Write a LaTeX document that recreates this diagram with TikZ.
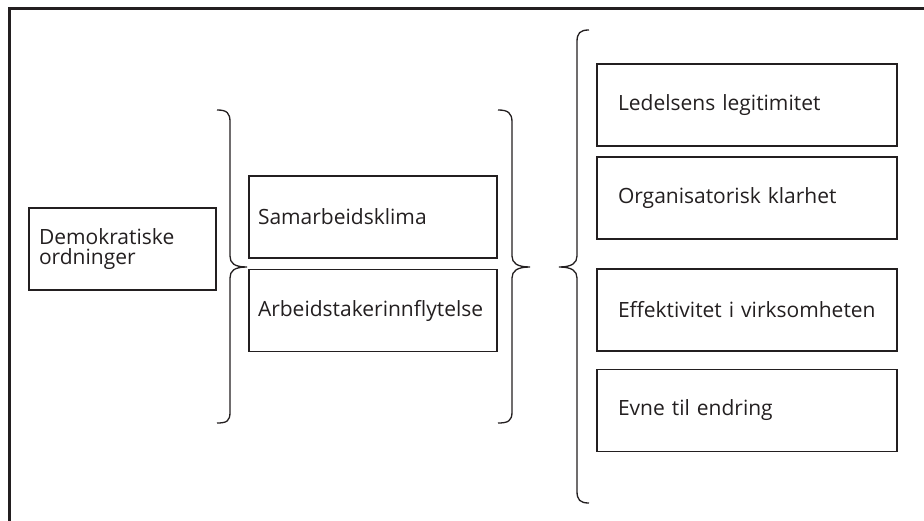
\documentclass[tikz,border=0pt]{standalone}
\usepackage{fontspec}
\setmainfont{Open Sans}
\definecolor{ink}{HTML}{231F20}
\begin{document}
\begin{tikzpicture}[x=1pt,y=-1pt,
  box/.style={draw=ink, line width=1.5pt, minimum height=82pt, align=left,
    font=\fontsize{21}{20}\selectfont, text=ink, anchor=center},
  brace/.style={draw=ink, line width=1.3pt},
  frame/.style={draw=ink, line width=3pt}]
\useasboundingbox (0,0) rectangle (924,521);
\draw[frame] (9,521) -- (9,9) -- (924,9);
\node[box, minimum width=187pt, inner xsep=10pt, text width=167pt] (dem) at (122.5,249) {Demokratiske\\ordninger};
\node[box, minimum width=248pt, inner xsep=9pt, text width=230pt] (sam) at (373,217) {Samarbeidsklima};
\node[box, minimum width=248pt, inner xsep=9pt, text width=230pt] (arb) at (373,310.5) {Arbeidstakerinnflytelse};
\node[box, minimum width=300pt, inner xsep=21pt, text width=258pt] (led) at (747,105) {Ledelsens legitimitet};
\node[box, minimum width=300pt, inner xsep=21pt, text width=258pt] (org) at (747,198) {Organisatorisk klarhet};
\node[box, minimum width=300pt, inner xsep=21pt, text width=258pt] (eff) at (747,310) {Effektivitet i virksomheten};
\node[box, minimum width=300pt, inner xsep=21pt, text width=258pt] (evn) at (747,410.5) {Evne til endring};
% braces
\draw[brace] (217,110) .. controls (227,110) and (230,113) .. (230,122) -- (230,256)
  .. controls (230,263) and (234,267) .. (247,267)
  .. controls (234,267) and (230,271) .. (230,278) -- (230,412)
  .. controls (230,421) and (227,423) .. (217,423);
\draw[brace] (498,110) .. controls (508,110) and (512,113) .. (512,122) -- (512,256)
  .. controls (512,263) and (517,267) .. (530,267)
  .. controls (517,267) and (512,271) .. (512,278) -- (512,412)
  .. controls (512,421) and (508,423) .. (498,423);
\draw[brace] (589,30) .. controls (580,30) and (577,33) .. (577,42) -- (577,256)
  .. controls (577,263) and (572,267) .. (559,267)
  .. controls (572,267) and (577,271) .. (577,278) -- (577,491)
  .. controls (577,500) and (580,503) .. (589,503);
\end{tikzpicture}
\end{document}
